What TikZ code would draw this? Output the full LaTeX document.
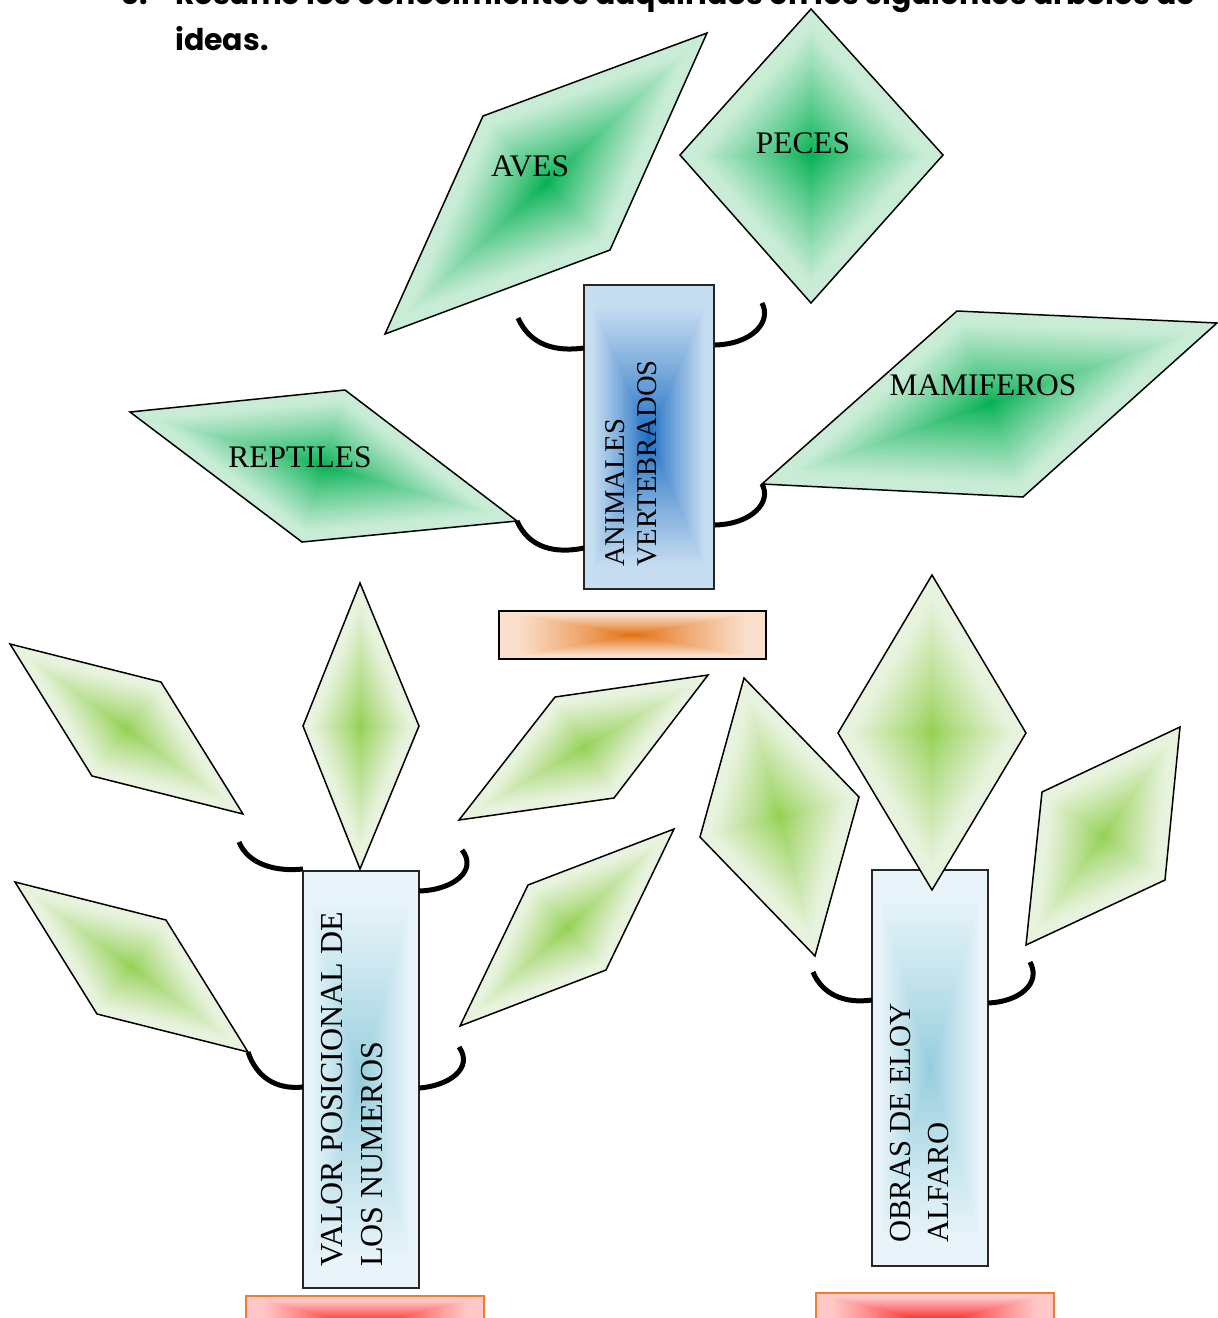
\documentclass[tikz,border=0pt]{standalone}
\usepackage{fontspec}
\setmainfont{Liberation Serif}
\newfontfamily\titlefont{Poppins}
\usepackage{graphicx}
\usetikzlibrary{calc}
\definecolor{topleafin}{RGB}{0,176,80}
\definecolor{topleafout}{RGB}{200,236,214}
\definecolor{lowleafin}{RGB}{146,208,80}
\definecolor{lowleafout}{RGB}{232,243,222}
\definecolor{trunkAin}{RGB}{22,104,192}
\definecolor{trunkAout}{RGB}{199,222,241}
\definecolor{trunkBin}{RGB}{146,204,220}
\definecolor{trunkBout}{RGB}{232,244,249}
\definecolor{potin}{RGB}{226,107,10}
\definecolor{potout}{RGB}{250,224,204}
\definecolor{redin}{RGB}{255,0,0}
\definecolor{redout}{RGB}{255,200,200}
\definecolor{redborder}{RGB}{237,125,49}
\tikzset{
  leafline/.style={draw=black, line width=1.5pt, line join=miter},
  hookline/.style={draw=black, line width=5pt},
  boxline/.style={draw=black!85, line width=1.6pt},
  potline/.style={draw=black, line width=1.6pt},
  redline/.style={draw=redborder, line width=1.8pt},
  lbl/.style={inner sep=0pt, font=\fontsize{31.4}{36}\selectfont},
  vlbl/.style={inner sep=0pt, rotate=90, anchor=west, align=left},
  titletext/.style={anchor=base west, inner sep=0pt, font={\titlefont\bfseries\fontsize{30}{36}\selectfont}},
  boxshape/.style={inner sep=0pt, outer sep=0pt},
}
\newcommand\quaddef[5]{%
  \coordinate (#11) at (#2);
  \coordinate (#12) at (#3);
  \coordinate (#13) at (#4);
  \coordinate (#14) at (#5);
  \coordinate (#1c) at ($0.25*(#11)+0.25*(#12)+0.25*(#13)+0.25*(#14)$);}
\newcommand\boxdef[1]{%
  \coordinate (#11) at (#1.north west);
  \coordinate (#12) at (#1.north east);
  \coordinate (#13) at (#1.south east);
  \coordinate (#14) at (#1.south west);
  \coordinate (#1c) at (#1.center);}
\newcommand\quadgrad[3]{%
  \foreach \gk in {0,...,59}{%
    \pgfmathsetmacro\gs{1-\gk/60}%
    \pgfmathtruncatemacro\gf{100*min(1,\gs/0.87)^0.85}%
    \fill[#3!\gf!#2] ($(#1c)!\gs!(#11)$) -- ($(#1c)!\gs!(#12)$) -- ($(#1c)!\gs!(#13)$) -- ($(#1c)!\gs!(#14)$) -- cycle;}}
\newcommand\quadline[2]{\draw[#2] (#11) -- (#12) -- (#13) -- (#14) -- cycle;}

\begin{document}
\begin{tikzpicture}[x=1pt,y=-1pt]
\useasboundingbox (0,0) rectangle (1218,1318);

% ---------- title (first line cut by the page edge, as in the reference) ----------
\begin{scope}
\clip (0,0) rectangle (1218,100);
\node[titletext] (tnum) at (120,4) {6.};
\node[titletext] (tline1) at (175,4) {\resizebox{1020pt}{\height}{Resume los conocimientos adquiridos en los siguientes árboles de}};
\node[titletext] (tline2) at (175,50) {ideas.};
\end{scope}

% ================= tree 1 =================
\node[boxshape, minimum width=130pt, minimum height=304pt] (trunkA) at (649,437) {};
\boxdef{trunkA}
\quadgrad{trunkA}{trunkAin}{trunkAout}
\quadline{trunkA}{boxline}
\node[vlbl, font=\fontsize{28.6}{32}\selectfont] (trunkAtxt) at (631,567) {ANIMALES\\VERTEBRADOS};

\node[boxshape, minimum width=267pt, minimum height=48pt] (potA) at (632.5,635) {};
\boxdef{potA}
\quadgrad{potA}{potin}{potout}
\quadline{potA}{potline}

\quaddef{av}{483,116}{707,33}{610,250}{385,334}
\quadgrad{av}{topleafin}{topleafout}
\quadline{av}{leafline}
\node[lbl] (aves) at (530,166) {AVES};

\quaddef{pe}{811,9}{943,155}{811,303}{680,155}
\quadgrad{pe}{topleafin}{topleafout}
\quadline{pe}{leafline}
\node[lbl] (peces) at (803,143) {PECES};

\quaddef{ma}{957,311}{1217,323}{1023,497}{762,484}
\quadgrad{ma}{topleafin}{topleafout}
\quadline{ma}{leafline}
\node[lbl] (mamiferos) at (983,385) {MAMIFEROS};

\quaddef{re}{130,412}{345,390}{517,521}{302,542}
\quadgrad{re}{topleafin}{topleafout}
\quadline{re}{leafline}
\node[lbl] (reptiles) at (300,457) {REPTILES};

\coordinate (hA1s) at (518,318);
\coordinate (hA1e) at (584,348);
\coordinate (hA2s) at (715,345);
\coordinate (hA2e) at (762,303);
\coordinate (hA3e) at (584,548);
\coordinate (hA4s) at (715,525);
\draw[hookline] (hA1s) .. controls +(12,27) and +(-29,4) .. (hA1e);
\draw[hookline] (hA2s) .. controls +(37,-1) and +(10,19) .. (hA2e);
\draw[hookline] (re3) .. controls +(12,27) and +(-29,6) .. (hA3e);
\draw[hookline] (hA4s) .. controls +(37,-1) and +(10,18) .. (ma4);

% ================= tree 2 =================
\node[boxshape, minimum width=116pt, minimum height=417pt] (trunkB) at (361,1079.5) {};
\boxdef{trunkB}
\quadgrad{trunkB}{trunkBin}{trunkBout}
\quadline{trunkB}{boxline}
\node[vlbl, font=\fontsize{32}{39.5}\selectfont] (trunkBtxt) at (352,1267) {VALOR POSICIONAL DE\\LOS NUMEROS};

\begin{scope}
\clip (0,1200) rectangle (1218,1318);
\node[boxshape, minimum width=238pt, minimum height=60pt] (potB) at (365,1326) {};
\boxdef{potB}
\quadgrad{potB}{redin}{redout}
\quadline{potB}{redline}
\node[boxshape, minimum width=238pt, minimum height=60pt] (potC) at (935,1323) {};
\boxdef{potC}
\quadgrad{potC}{redin}{redout}
\quadline{potC}{redline}
\end{scope}

\quaddef{la}{10,644}{161,682}{243,814}{92,776}
\quadgrad{la}{lowleafin}{lowleafout}
\quadline{la}{leafline}
\quaddef{lb}{360,583}{419,726}{360,869}{303,726}
\quadgrad{lb}{lowleafin}{lowleafout}
\quadline{lb}{leafline}
\quaddef{lc}{555,697}{708,675}{614,798}{459,820}
\quadgrad{lc}{lowleafin}{lowleafout}
\quadline{lc}{leafline}
\quaddef{ld}{15,882}{166,920}{248,1052}{97,1014}
\quadgrad{ld}{lowleafin}{lowleafout}
\quadline{ld}{leafline}
\quaddef{le}{528,885}{674,829}{606,970}{460,1026}
\quadgrad{le}{lowleafin}{lowleafout}
\quadline{le}{leafline}

\coordinate (hB1s) at (239,842);
\coordinate (hB1e) at (303,869);
\coordinate (hB2s) at (419,891);
\coordinate (hB2e) at (462,850);
\coordinate (hB3e) at (303,1087);
\coordinate (hB4s) at (419,1088);
\coordinate (hB4e) at (459,1047);
\draw[hookline] (hB1s) .. controls +(9,22) and +(-28,3) .. (hB1e);
\draw[hookline] (hB2s) .. controls +(35,-1) and +(16,20) .. (hB2e);
\draw[hookline] (ld3) .. controls +(8,24) and +(-28,3) .. (hB3e);
\draw[hookline] (hB4s) .. controls +(30,-2) and +(15,21) .. (hB4e);

% ================= tree 3 =================
\node[boxshape, minimum width=116pt, minimum height=396pt] (trunkC) at (930,1068) {};
\boxdef{trunkC}
\quadgrad{trunkC}{trunkBin}{trunkBout}
\quadline{trunkC}{boxline}
\node[vlbl, font=\fontsize{30.6}{38}\selectfont] (trunkCtxt) at (920,1243) {OBRAS DE ELOY\\ALFARO};

\quaddef{ra}{744,678}{859,797}{815,956}{700,837}
\quadgrad{ra}{lowleafin}{lowleafout}
\quadline{ra}{leafline}
\quaddef{rb}{932,575}{1026,733}{932,890}{838,733}
\quadgrad{rb}{lowleafin}{lowleafout}
\quadline{rb}{leafline}
\quaddef{rc}{1042,792}{1180,727}{1165,880}{1026,945}
\quadgrad{rc}{lowleafin}{lowleafout}
\quadline{rc}{leafline}

\coordinate (hC1s) at (813,972);
\coordinate (hC1e) at (872,1000);
\coordinate (hC2s) at (988,1003);
\coordinate (hC2e) at (1030,962);
\draw[hookline] (hC1s) .. controls +(9,22) and +(-28,4) .. (hC1e);
\draw[hookline] (hC2s) .. controls +(30,-1) and +(12,22) .. (hC2e);
\end{tikzpicture}
\end{document}
